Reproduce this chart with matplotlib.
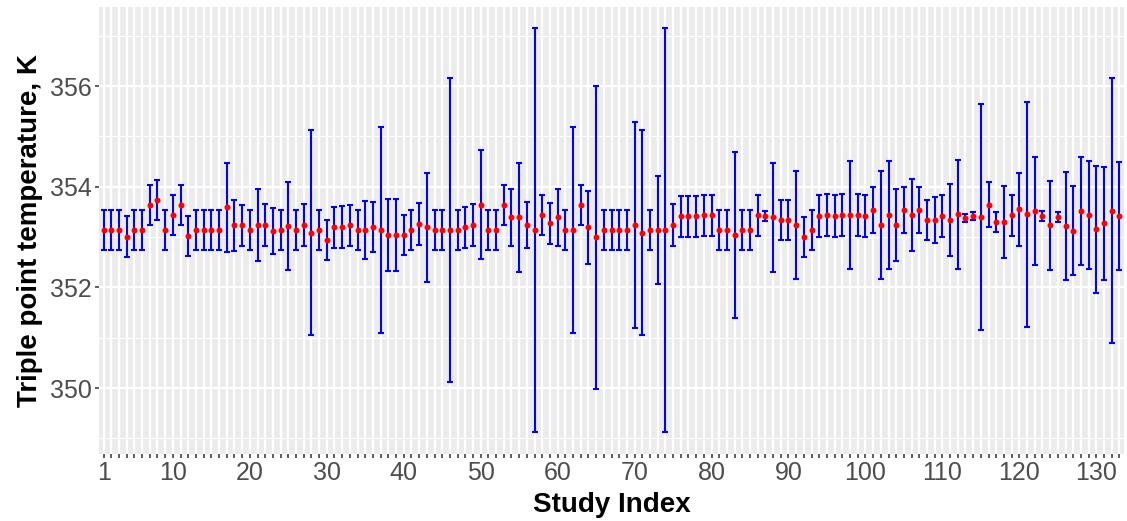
import numpy as np
import matplotlib
matplotlib.use("Agg")
import matplotlib.pyplot as plt
from matplotlib.ticker import FixedLocator

plt.rcParams['font.family'] = ['Liberation Sans', 'DejaVu Sans']

# triple point temperature (K) per study, with its uncertainty
temperature = [
    353.14, 353.14, 353.14, 353.01, 353.14, 353.14, 353.64, 353.74, 353.14, 353.44,
    353.64, 353.02, 353.14, 353.14, 353.14, 353.14, 353.59, 353.23, 353.23, 353.14,
    353.24, 353.24, 353.12, 353.14, 353.22, 353.14, 353.24, 353.09, 353.14, 352.94,
    353.19, 353.20, 353.23, 353.14, 353.14, 353.20, 353.14, 353.04, 353.04, 353.04,
    353.14, 353.26, 353.19, 353.14, 353.14, 353.14, 353.14, 353.19, 353.24, 353.64,
    353.14, 353.14, 353.64, 353.39, 353.39, 353.24, 353.14, 353.44, 353.27, 353.39,
    353.14, 353.14, 353.64, 353.19, 353.00, 353.14, 353.14, 353.14, 353.14, 353.24,
    353.09, 353.14, 353.14, 353.14, 353.24, 353.41, 353.41, 353.41, 353.43, 353.43,
    353.14, 353.14, 353.04, 353.14, 353.14, 353.43, 353.42, 353.39, 353.34, 353.34,
    353.24, 353.00, 353.14, 353.42, 353.44, 353.42, 353.44, 353.44, 353.44, 353.42,
    353.54, 353.24, 353.44, 353.24, 353.54, 353.44, 353.54, 353.34, 353.34, 353.42,
    353.34, 353.45, 353.37, 353.41, 353.40, 353.64, 353.30, 353.30, 353.43, 353.55,
    353.45, 353.52, 353.42, 353.23, 353.39, 353.22, 353.13, 353.52, 353.44, 353.15,
    353.27, 353.52, 353.42,
]
uncertainty = [
    0.40, 0.40, 0.40, 0.40, 0.40, 0.40, 0.40, 0.40, 0.40, 0.40,
    0.40, 0.40, 0.40, 0.40, 0.40, 0.40, 0.88, 0.50, 0.41, 0.40,
    0.72, 0.41, 0.45, 0.40, 0.88, 0.40, 0.41, 2.04, 0.40, 0.40,
    0.41, 0.41, 0.41, 0.40, 0.57, 0.50, 2.04, 0.72, 0.72, 0.40,
    0.40, 0.41, 1.08, 0.40, 0.40, 3.01, 0.40, 0.41, 0.41, 1.08,
    0.40, 0.40, 0.40, 0.57, 1.08, 0.45, 4.01, 0.40, 0.41, 0.57,
    0.40, 2.04, 0.40, 0.72, 3.01, 0.40, 0.40, 0.40, 0.40, 2.04,
    2.04, 0.40, 1.08, 4.01, 0.41, 0.41, 0.41, 0.41, 0.41, 0.41,
    0.40, 0.40, 1.65, 0.40, 0.40, 0.41, 0.10, 1.08, 0.40, 0.40,
    1.08, 0.40, 0.40, 0.41, 0.41, 0.41, 0.41, 1.08, 0.41, 0.41,
    0.45, 1.08, 1.08, 0.72, 0.45, 0.72, 0.45, 0.40, 0.45, 0.41,
    0.72, 1.08, 0.08, 0.08, 2.24, 0.45, 0.20, 0.72, 0.41, 0.72,
    2.24, 1.08, 0.10, 0.88, 0.10, 1.08, 0.89, 1.08, 1.08, 1.27,
    1.13, 2.63, 1.08,
]
study_index = np.arange(1, len(temperature) + 1)
labelled = [1, 10, 20, 30, 40, 50, 60, 70, 80, 90, 100, 110, 120, 130]

fig = plt.figure(figsize=(11.27, 5.21), dpi=100)
ax = fig.add_axes([99 / 1127, 67 / 521, 1025 / 1127, 447 / 521])
ax.set_facecolor('#EBEBEB')
for s in ax.spines.values():
    s.set_visible(False)

# error bars first, points on top
ax.errorbar(study_index, temperature, yerr=uncertainty, fmt='none',
            ecolor='blue', elinewidth=1.5, capsize=2.4, capthick=1.5, zorder=3)
ax.plot(study_index, temperature, 'o', color='red', markersize=4.3,
        markeredgewidth=0, zorder=4)

ax.set_xlim(0.4, 133.6)
ax.set_ylim(348.69, 357.57)

ax.xaxis.set_major_locator(FixedLocator(study_index))
ax.set_xticklabels([str(i) if i in labelled else '' for i in study_index])
ax.yaxis.set_major_locator(FixedLocator([350, 352, 354, 356]))
ax.yaxis.set_minor_locator(FixedLocator([349, 351, 353, 355, 357]))

ax.grid(which='major', color='white', linewidth=1.6, zorder=0)
ax.grid(which='minor', axis='y', color='white', linewidth=0.8, zorder=0)
ax.set_axisbelow(True)

ax.tick_params(axis='both', which='major', length=3, width=1.1, color='#333333',
               labelcolor='#4D4D4D', labelsize=18, pad=2)
ax.tick_params(axis='y', which='minor', length=0)

ax.set_xlabel('Study Index', fontsize=20, fontweight='bold', labelpad=5)
ax.set_ylabel('Triple point temperature, K', fontsize=20, fontweight='bold', labelpad=5)

fig.savefig('out.png', dpi=100)
